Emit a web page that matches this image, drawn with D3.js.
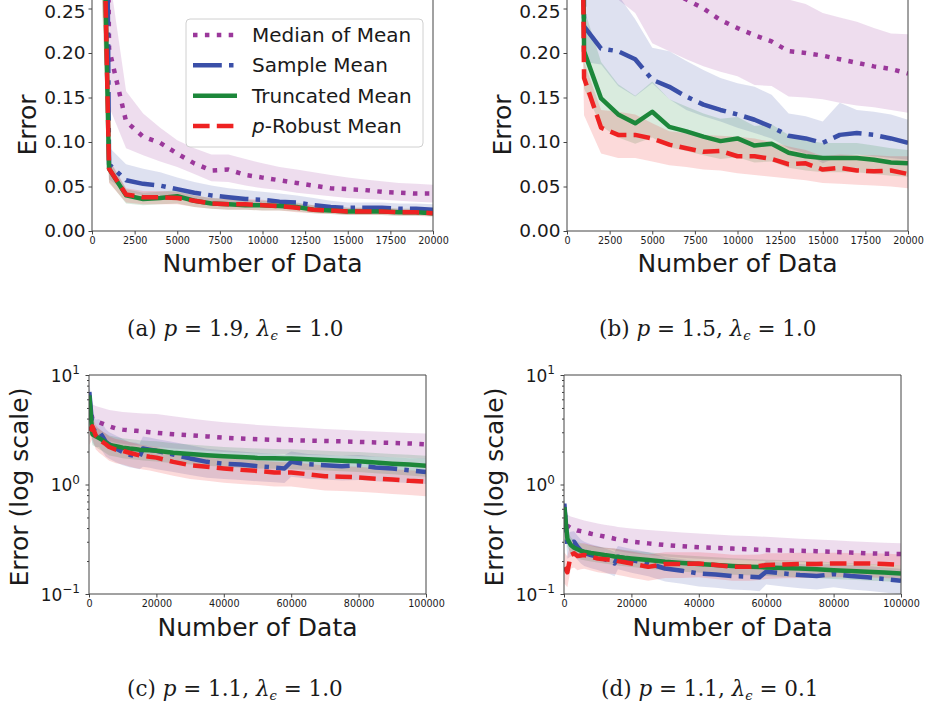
<!DOCTYPE html>
<html><head><meta charset="utf-8">
<script src="https://cdn.jsdelivr.net/npm/d3@7"></script>
<style>
body{margin:0;background:#fff}
svg{display:block}
text{font-family:"DejaVu Sans",sans-serif;fill:#1a1a1a}
text.cap{font-family:"DejaVu Serif",serif}
</style>
</head><body><svg id="c" width="925" height="715"></svg>
<script>
// ---------- DATA ----------
const seriesNames = ["Median of Mean", "Sample Mean", "Truncated Mean", "p-Robust Mean"];
const xTicksAB = [0, 2500, 5000, 7500, 10000, 12500, 15000, 17500, 20000];
const yTicksAB = [0, 0.05, 0.10, 0.15, 0.20, 0.25];
const xTicksCD = [0, 20000, 40000, 60000, 80000, 100000];
const yTicksCD = [0.1, 1, 10];
const yTickExpCD = ["\u22121", "0", "1"];
const yMinorCD = [0.2,0.3,0.4,0.5,0.6,0.7,0.8,0.9,2,3,4,5,6,7,8,9];
const captions = [
  ["(a)", "1.9", "1.0"], ["(b)", "1.5", "1.0"], ["(c)", "1.1", "1.0"], ["(d)", "1.1", "0.1"]
];

// Panels (a),(b): number of data
const xAB = [100,1000,2000,3000,4000,5000,6000,7000,8000,9000,10000,11000,12000,13000,14000,15000,16000,17000,18000,19000,20000];

// (a) p=1.9
const momA   = [2.0,0.205,0.123,0.106,0.099,0.087,0.076,0.068,0.069,0.063,0.060,0.057,0.054,0.051,0.048,0.047,0.046,0.044,0.043,0.042,0.042];
const momALo = [1.0,0.140,0.093,0.085,0.078,0.072,0.064,0.056,0.055,0.051,0.048,0.046,0.043,0.041,0.039,0.037,0.036,0.035,0.034,0.033,0.032];
const momAHi = [3.0,0.290,0.157,0.132,0.116,0.102,0.093,0.086,0.086,0.081,0.076,0.072,0.069,0.066,0.063,0.060,0.058,0.056,0.054,0.053,0.052];
const smA    = [2.3,0.075,0.057,0.053,0.051,0.047,0.043,0.040,0.038,0.036,0.035,0.033,0.032,0.029,0.027,0.026,0.026,0.026,0.025,0.025,0.024];
const smALo  = [1.2,0.058,0.044,0.040,0.039,0.037,0.034,0.032,0.030,0.029,0.028,0.027,0.026,0.024,0.022,0.021,0.021,0.021,0.020,0.020,0.019];
const smAHi  = [3.5,0.094,0.075,0.070,0.066,0.060,0.055,0.051,0.048,0.046,0.044,0.042,0.040,0.037,0.034,0.032,0.032,0.032,0.031,0.031,0.030];
const tmA    = [0.9,0.070,0.040,0.036,0.037,0.039,0.034,0.031,0.030,0.029,0.029,0.028,0.027,0.024,0.023,0.022,0.022,0.022,0.021,0.021,0.020];
const tmALo  = [0.5,0.055,0.031,0.029,0.030,0.031,0.027,0.025,0.024,0.024,0.023,0.023,0.022,0.020,0.019,0.018,0.018,0.018,0.017,0.017,0.017];
const tmAHi  = [1.3,0.080,0.047,0.043,0.044,0.046,0.040,0.037,0.036,0.035,0.034,0.033,0.032,0.029,0.028,0.026,0.026,0.026,0.025,0.025,0.024];
const rmA    = [0.9,0.070,0.041,0.038,0.038,0.037,0.034,0.031,0.030,0.030,0.029,0.028,0.026,0.024,0.023,0.022,0.022,0.022,0.021,0.021,0.020];
const rmALo  = [0.5,0.054,0.032,0.030,0.030,0.030,0.027,0.025,0.024,0.024,0.023,0.023,0.021,0.020,0.019,0.018,0.018,0.018,0.017,0.017,0.016];
const rmAHi  = [1.3,0.081,0.048,0.045,0.045,0.044,0.040,0.037,0.036,0.036,0.035,0.033,0.031,0.029,0.028,0.026,0.026,0.026,0.025,0.025,0.024];

// (b) p=1.5
const momB   = [3.0,0.45,0.36,0.32,0.30,0.285,0.27,0.26,0.25,0.237,0.228,0.220,0.213,0.202,0.200,0.197,0.193,0.189,0.185,0.182,0.177];
const momBLo = [1.5,0.32,0.29,0.26,0.245,0.211,0.202,0.193,0.185,0.179,0.174,0.164,0.163,0.151,0.150,0.148,0.144,0.141,0.139,0.136,0.133];
const momBHi = [5.0,0.70,0.55,0.48,0.44,0.40,0.37,0.35,0.33,0.31,0.29,0.28,0.27,0.26,0.255,0.245,0.240,0.235,0.228,0.222,0.221];
const smB    = [3.5,0.230,0.205,0.202,0.193,0.170,0.162,0.151,0.142,0.136,0.131,0.125,0.117,0.107,0.104,0.099,0.108,0.110,0.108,0.104,0.099];
const smBLo  = [1.8,0.190,0.187,0.163,0.151,0.166,0.148,0.136,0.129,0.123,0.116,0.110,0.104,0.093,0.087,0.076,0.084,0.086,0.084,0.082,0.080];
const smBHi  = [5.5,0.300,0.280,0.265,0.238,0.206,0.202,0.191,0.181,0.172,0.166,0.162,0.153,0.132,0.129,0.123,0.144,0.136,0.134,0.131,0.125];
const tmB    = [2.5,0.202,0.149,0.131,0.121,0.134,0.117,0.112,0.106,0.101,0.104,0.096,0.098,0.088,0.084,0.082,0.082,0.082,0.080,0.077,0.076];
const tmBLo  = [1.3,0.160,0.118,0.105,0.098,0.105,0.094,0.090,0.085,0.081,0.083,0.077,0.078,0.071,0.068,0.066,0.066,0.066,0.064,0.062,0.061];
const tmBHi  = [4.0,0.250,0.190,0.165,0.152,0.168,0.148,0.140,0.132,0.126,0.128,0.118,0.120,0.108,0.102,0.099,0.099,0.099,0.096,0.093,0.091];
const rmB    = [2.0,0.172,0.116,0.108,0.108,0.104,0.097,0.093,0.089,0.090,0.084,0.084,0.081,0.075,0.076,0.069,0.071,0.068,0.067,0.068,0.064];
const rmBLo  = [1.0,0.130,0.087,0.082,0.082,0.078,0.074,0.072,0.069,0.068,0.065,0.063,0.061,0.059,0.057,0.054,0.053,0.052,0.051,0.050,0.048];
const rmBHi  = [3.0,0.190,0.136,0.134,0.131,0.121,0.112,0.110,0.108,0.107,0.106,0.104,0.100,0.095,0.091,0.084,0.086,0.085,0.085,0.084,0.084];

// Panels (c),(d)
const xCD = [100,1000,2000,3000,4000,5000,6000,8000,10000,12000,14000,15000,16000,18000,20000,25000,30000,35000,40000,45000,50000,55000,58000,60000,65000,70000,75000,80000,85000,90000,95000,100000];

// (c) p=1.1, lambda=1.0
const momC   = [5.5,4.0,3.8,3.7,3.6,3.5,3.4,3.25,3.17,3.12,3.09,3.07,3.05,3.0,2.96,2.88,2.82,2.75,2.68,2.63,2.59,2.56,2.55,2.54,2.52,2.50,2.48,2.45,2.42,2.40,2.37,2.33];
const momCLo = [4.0,3.0,2.8,2.7,2.65,2.6,2.5,2.4,2.35,2.3,2.28,2.27,2.26,2.22,2.2,2.13,2.08,2.03,1.98,1.95,1.92,1.9,1.89,1.88,1.86,1.85,1.83,1.81,1.79,1.77,1.75,1.72];
const momCHi = [7.5,5.4,5.2,5.1,5.0,4.9,4.8,4.7,4.6,4.55,4.5,4.48,4.46,4.43,4.4,4.2,4.0,3.85,3.7,3.6,3.5,3.42,3.37,3.35,3.28,3.22,3.16,3.1,3.05,3.0,2.96,2.92];
const smC    = [7.0,3.3,3.0,3.05,2.75,2.45,2.33,2.13,1.98,1.87,1.81,1.79,2.13,2.08,2.03,1.88,1.73,1.61,1.55,1.52,1.47,1.43,1.40,1.61,1.53,1.50,1.47,1.50,1.43,1.40,1.35,1.30];
const smCLo  = [4.5,2.4,2.2,2.2,2.0,1.8,1.72,1.6,1.5,1.44,1.40,1.38,1.45,1.42,1.38,1.30,1.22,1.15,1.12,1.1,1.07,1.05,1.03,1.18,1.13,1.11,1.09,1.1,1.07,1.05,1.03,1.01];
const smCHi  = [9.0,4.3,3.9,3.95,3.6,3.2,3.0,2.8,2.6,2.45,2.4,2.35,2.75,2.68,2.6,2.45,2.28,2.12,2.05,2.0,1.95,1.9,1.86,2.0,1.9,1.87,1.83,1.86,1.8,1.77,1.74,1.73];
const tmC    = [6.5,2.88,2.76,2.65,2.54,2.42,2.30,2.24,2.17,2.13,2.10,2.08,2.07,2.05,2.03,1.95,1.90,1.85,1.81,1.78,1.75,1.74,1.73,1.73,1.70,1.67,1.65,1.63,1.59,1.55,1.52,1.48];
const tmCLo  = [4.8,2.3,2.2,2.1,2.02,1.93,1.84,1.79,1.74,1.71,1.68,1.67,1.66,1.64,1.62,1.56,1.52,1.48,1.45,1.42,1.4,1.39,1.38,1.38,1.36,1.34,1.32,1.3,1.27,1.24,1.21,1.18];
const tmCHi  = [8.0,3.5,3.35,3.2,3.05,2.92,2.8,2.72,2.64,2.6,2.56,2.54,2.52,2.5,2.48,2.38,2.32,2.26,2.2,2.17,2.13,2.11,2.1,2.1,2.07,2.03,2.0,1.98,1.94,1.9,1.87,1.83];
const rmC    = [3.1,3.4,2.8,2.6,2.45,2.33,2.2,2.08,2.03,1.95,1.88,1.85,1.83,1.79,1.76,1.61,1.50,1.45,1.40,1.36,1.33,1.29,1.29,1.29,1.24,1.19,1.18,1.16,1.13,1.11,1.08,1.06];
const rmCLo  = [2.3,2.6,2.1,1.95,1.85,1.75,1.65,1.56,1.52,1.46,1.41,1.39,1.37,1.34,1.3,1.2,1.12,1.08,1.04,1.01,0.99,0.96,0.96,0.96,0.92,0.88,0.87,0.86,0.84,0.82,0.8,0.78];
const rmCHi  = [3.8,4.2,3.5,3.25,3.05,2.9,2.75,2.6,2.53,2.44,2.35,2.31,2.29,2.24,2.2,2.0,1.87,1.8,1.74,1.7,1.66,1.61,1.6,1.6,1.55,1.49,1.47,1.45,1.41,1.38,1.35,1.32];

// (d) p=1.1, lambda=0.1
const momD   = [0.55,0.42,0.40,0.39,0.38,0.375,0.37,0.355,0.345,0.335,0.325,0.32,0.316,0.308,0.30,0.29,0.28,0.273,0.267,0.263,0.26,0.256,0.253,0.252,0.25,0.248,0.246,0.243,0.239,0.235,0.233,0.232];
const momDLo = [0.4,0.32,0.31,0.3,0.295,0.29,0.285,0.275,0.265,0.26,0.255,0.25,0.247,0.241,0.235,0.227,0.22,0.214,0.21,0.207,0.205,0.202,0.2,0.2,0.198,0.196,0.195,0.193,0.19,0.187,0.185,0.183];
const momDHi = [0.7,0.53,0.51,0.5,0.49,0.48,0.47,0.455,0.44,0.43,0.42,0.415,0.41,0.403,0.397,0.385,0.375,0.365,0.357,0.35,0.343,0.338,0.335,0.333,0.327,0.32,0.315,0.31,0.303,0.298,0.294,0.29];
const smD    = [0.67,0.28,0.293,0.30,0.27,0.25,0.238,0.227,0.219,0.208,0.197,0.19,0.219,0.211,0.204,0.19,0.171,0.163,0.154,0.151,0.146,0.144,0.142,0.16,0.154,0.149,0.146,0.152,0.146,0.142,0.137,0.132];
const smDLo  = [0.55,0.21,0.22,0.225,0.205,0.19,0.18,0.172,0.166,0.158,0.15,0.145,0.168,0.162,0.156,0.145,0.13,0.124,0.117,0.114,0.11,0.108,0.106,0.122,0.117,0.113,0.11,0.115,0.11,0.107,0.103,0.099];
const smDHi  = [0.8,0.36,0.37,0.375,0.34,0.315,0.3,0.285,0.275,0.262,0.25,0.242,0.275,0.266,0.258,0.24,0.218,0.208,0.198,0.194,0.188,0.185,0.183,0.2,0.193,0.188,0.184,0.19,0.184,0.18,0.175,0.17];
const tmD    = [0.62,0.32,0.28,0.265,0.256,0.248,0.243,0.237,0.232,0.227,0.223,0.22,0.218,0.214,0.211,0.204,0.197,0.192,0.188,0.184,0.18,0.177,0.176,0.175,0.173,0.171,0.168,0.165,0.162,0.16,0.157,0.154];
const tmDLo  = [0.5,0.27,0.235,0.222,0.214,0.207,0.203,0.198,0.194,0.19,0.186,0.184,0.182,0.179,0.176,0.17,0.164,0.16,0.157,0.153,0.15,0.148,0.147,0.146,0.144,0.142,0.14,0.137,0.135,0.133,0.131,0.128];
const tmDHi  = [0.75,0.38,0.33,0.31,0.3,0.29,0.285,0.278,0.272,0.266,0.262,0.26,0.257,0.252,0.248,0.24,0.232,0.226,0.221,0.217,0.212,0.209,0.207,0.206,0.204,0.201,0.198,0.195,0.192,0.189,0.186,0.183];
const rmD    = [0.175,0.158,0.227,0.235,0.222,0.225,0.227,0.219,0.211,0.208,0.205,0.204,0.2,0.195,0.19,0.177,0.188,0.188,0.19,0.184,0.177,0.177,0.18,0.184,0.186,0.188,0.188,0.19,0.19,0.19,0.188,0.184];
const rmDLo  = [0.125,0.115,0.17,0.175,0.165,0.168,0.17,0.164,0.158,0.155,0.153,0.152,0.149,0.145,0.141,0.132,0.14,0.14,0.142,0.137,0.132,0.132,0.134,0.137,0.139,0.14,0.14,0.142,0.142,0.142,0.14,0.137];
const rmDHi  = [0.24,0.22,0.3,0.31,0.29,0.29,0.29,0.28,0.27,0.265,0.262,0.26,0.256,0.25,0.245,0.23,0.24,0.24,0.24,0.235,0.228,0.228,0.23,0.235,0.236,0.238,0.237,0.238,0.237,0.236,0.234,0.229];

// ---------- STYLE ----------
const keys = ["mom","sm","tm","rm"];
const colors = {mom:"#9b389b", sm:"#3a4fa8", tm:"#1c873a", rm:"#ee2222"};
const dashes = {mom:"4.5,7.4", sm:"28.8,7.2,4.5,7.2", tm:null, rm:"16.6,7.2"};
const LW = 4.5;
const axisColor = "#444";

const svg = d3.select("#c");

function makePanel(cfg){
  const g = svg.append("g");
  const x = d3.scaleLinear().domain([0, cfg.xmax]).range([cfg.left, cfg.right]);
  const y = cfg.log
    ? d3.scaleLog().domain([0.1, 10]).range([cfg.bottom, cfg.top])
    : d3.scaleLinear().domain([0, 0.25]).range([cfg.bottom, cfg.top]);
  const clipId = "clip" + cfg.id;
  svg.append("clipPath").attr("id", clipId).append("rect")
    .attr("x", cfg.left).attr("y", cfg.clipTop)
    .attr("width", cfg.right - cfg.left).attr("height", cfg.bottom - cfg.clipTop);
  const plot = g.append("g").attr("clip-path", `url(#${clipId})`);

  const data = {};
  keys.forEach(k => {
    const s = cfg.series[k];
    data[k] = cfg.xs.map((xv, i) => ({x: xv, v: s[0][i], lo: s[1][i], hi: s[2][i]}));
  });
  keys.forEach(k => {
    plot.append("path").datum(data[k])
      .attr("d", d3.area().x(d => x(d.x)).y0(d => y(d.lo)).y1(d => y(d.hi)))
      .attr("fill", colors[k]).attr("fill-opacity", 0.17).attr("stroke", "none");
  });
  keys.forEach(k => {
    const p = plot.append("path").datum(data[k])
      .attr("d", d3.line().x(d => x(d.x)).y(d => y(d.v)))
      .attr("fill", "none").attr("stroke", colors[k]).attr("stroke-width", LW)
      .attr("stroke-linejoin", "round");
    if (dashes[k]) p.attr("stroke-dasharray", dashes[k]);
  });

  // spines
  const sp = g.append("g").attr("stroke", axisColor).attr("stroke-width", 1).attr("fill", "none");
  sp.append("line").attr("x1", cfg.left).attr("x2", cfg.left).attr("y1", cfg.clipTop).attr("y2", cfg.bottom);
  sp.append("line").attr("x1", cfg.right).attr("x2", cfg.right).attr("y1", cfg.clipTop).attr("y2", cfg.bottom);
  sp.append("line").attr("x1", cfg.left).attr("x2", cfg.right).attr("y1", cfg.bottom).attr("y2", cfg.bottom);
  if (cfg.clipTop >= 0) sp.append("line").attr("x1", cfg.left).attr("x2", cfg.right).attr("y1", cfg.clipTop).attr("y2", cfg.clipTop);

  // x axis
  const xa = g.append("g").attr("transform", `translate(0,${cfg.bottom})`)
    .call(d3.axisBottom(x).tickValues(cfg.xTicks).tickSize(3.5).tickPadding(2.5).tickFormat(d3.format("d")));
  xa.select(".domain").remove();
  xa.selectAll("line").attr("stroke", axisColor);
  xa.selectAll("text").attr("font-size", 9.6).attr("font-family", "DejaVu Sans").attr("fill", "#1a1a1a");

  // y axis
  if (!cfg.log) {
    const ya = g.append("g").attr("transform", `translate(${cfg.left},0)`)
      .call(d3.axisLeft(y).tickValues(cfg.yTicks).tickSize(3.5).tickPadding(3).tickFormat(d3.format(".2f")));
    ya.select(".domain").remove();
    ya.selectAll("line").attr("stroke", axisColor);
    ya.selectAll("text").attr("font-size", 18.5).attr("font-family", "DejaVu Sans").attr("fill", "#1a1a1a");
    // top label sits at the page edge: nudge it so it stays fully on the page
    ya.selectAll(".tick").filter(d => d === 0.25).select("text").attr("dy", "0.5em");
  } else {
    const ya = g.append("g").attr("transform", `translate(${cfg.left},0)`)
      .call(d3.axisLeft(y).tickValues(cfg.yTicks).tickSize(3.5).tickFormat(""));
    ya.select(".domain").remove();
    ya.selectAll("line").attr("stroke", axisColor);
    const ym = g.append("g").attr("transform", `translate(${cfg.left},0)`)
      .call(d3.axisLeft(y).tickValues(yMinorCD).tickSize(2).tickFormat(""));
    ym.select(".domain").remove();
    ym.selectAll("line").attr("stroke", axisColor);
    cfg.yTicks.forEach((t, i) => {
      const tx = g.append("text").attr("x", cfg.left - 9).attr("y", y(t) + 6.5)
        .attr("text-anchor", "end").attr("font-size", 17);
      tx.append("tspan").text("10");
      tx.append("tspan").attr("dy", -7.5).attr("font-size", 12).text(yTickExpCD[i]);
    });
  }

  // axis labels
  g.append("text").attr("transform", `translate(${cfg.ylabX},${cfg.ylabY}) rotate(-90)`)
    .attr("text-anchor", "middle").attr("font-size", 25).text(cfg.ylabel);
  g.append("text").attr("x", (cfg.left + cfg.right) / 2).attr("y", cfg.xlabY)
    .attr("text-anchor", "middle").attr("font-size", 25).text("Number of Data");

  // caption
  const c = captions[cfg.capIdx];
  const ct = svg.append("text").attr("class", "cap").attr("x", cfg.capX).attr("y", cfg.capY)
    .attr("font-size", 21.5);
  ct.append("tspan").text(c[0] + " ");
  ct.append("tspan").attr("font-style", "italic").text("p");
  ct.append("tspan").text(" = " + c[1] + ", ");
  ct.append("tspan").attr("font-style", "italic").text("\u03BB");
  ct.append("tspan").attr("font-style", "italic").attr("font-size", 13).attr("dy", 4).text("\u03F5");
  ct.append("tspan").attr("dy", -4).text(" = " + c[2]);

  return {x, y, g};
}

makePanel({id:"a", left:92, right:433, top:8.5, bottom:231, clipTop:-5, xmax:20000, log:false,
  xs:xAB, xTicks:xTicksAB, yTicks:yTicksAB,
  series:{mom:[momA,momALo,momAHi], sm:[smA,smALo,smAHi], tm:[tmA,tmALo,tmAHi], rm:[rmA,rmALo,rmAHi]},
  ylabel:"Error", ylabX:36, ylabY:125, xlabY:272, capIdx:0, capX:127, capY:336});
makePanel({id:"b", left:567, right:908, top:8.5, bottom:231, clipTop:-5, xmax:20000, log:false,
  xs:xAB, xTicks:xTicksAB, yTicks:yTicksAB,
  series:{mom:[momB,momBLo,momBHi], sm:[smB,smBLo,smBHi], tm:[tmB,tmBLo,tmBHi], rm:[rmB,rmBLo,rmBHi]},
  ylabel:"Error", ylabX:511, ylabY:125, xlabY:272, capIdx:1, capX:599, capY:336});
makePanel({id:"c", left:89, right:426, top:375, bottom:594, clipTop:375, xmax:100000, log:true,
  xs:xCD, xTicks:xTicksCD, yTicks:yTicksCD,
  series:{mom:[momC,momCLo,momCHi], sm:[smC,smCLo,smCHi], tm:[tmC,tmCLo,tmCHi], rm:[rmC,rmCLo,rmCHi]},
  ylabel:"Error (log scale)", ylabX:28, ylabY:487, xlabY:636, capIdx:2, capX:127, capY:696});
makePanel({id:"d", left:564, right:901, top:375, bottom:594, clipTop:375, xmax:100000, log:true,
  xs:xCD, xTicks:xTicksCD, yTicks:yTicksCD,
  series:{mom:[momD,momDLo,momDHi], sm:[smD,smDLo,smDHi], tm:[tmD,tmDLo,tmDHi], rm:[rmD,rmDLo,rmDHi]},
  ylabel:"Error (log scale)", ylabX:503, ylabY:487, xlabY:636, capIdx:3, capX:601, capY:696});

// legend in panel (a)
const lg = svg.append("g");
lg.append("rect").attr("x", 186).attr("y", 19).attr("width", 237).attr("height", 128)
  .attr("rx", 4).attr("fill", "#fff").attr("fill-opacity", 0.85).attr("stroke", "#d0d0d0");
const legY = d3.scalePoint().domain(keys).range([35, 126]);
keys.forEach((k, i) => {
  const yy = legY(k);
  const ln = lg.append("line").attr("x1", 193).attr("x2", 237).attr("y1", yy).attr("y2", yy)
    .attr("stroke", colors[k]).attr("stroke-width", LW);
  if (dashes[k]) ln.attr("stroke-dasharray", dashes[k]);
  const t = lg.append("text").attr("x", 252).attr("y", yy + 7).attr("font-size", 20);
  if (k === "rm") {
    t.append("tspan").attr("font-style", "italic").text("p");
    t.append("tspan").text(seriesNames[i].slice(1));
  } else {
    t.text(seriesNames[i]);
  }
});
</script>
</body></html>
